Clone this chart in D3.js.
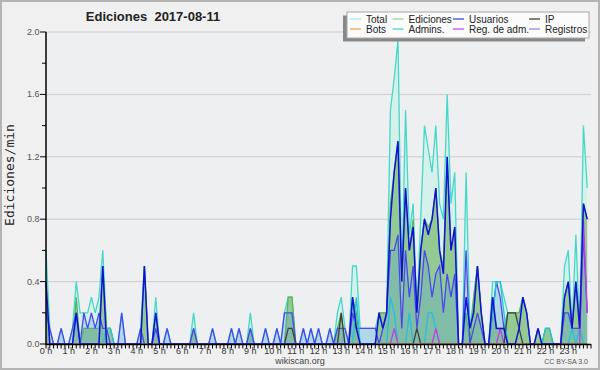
<!DOCTYPE html>
<html>
<head>
<meta charset="utf-8">
<script src="https://cdn.jsdelivr.net/npm/d3@7"></script>
<style>
  body { margin: 0; background: #fff; }
  svg { display: block; }
  text { font-family: "Liberation Sans", Arial, sans-serif; }
</style>
</head>
<body>
<div id="chart"></div>
<script>
// values per 10 minutes (edits/min), 0:00 -> 23:50
const total = [
  0.6,0.1,0,0,0.1,0, 0,0.1,0.4,0.2,0.2,0.2,
  0.3,0.2,0.3,0.6,0.1,0.1, 0,0,0.2,0,0,0,
  0,0.1,0.5,0,0,0.3, 0,0,0.1,0,0,0,
  0,0,0,0.2,0,0, 0,0,0.1,0,0,0,
  0,0.1,0,0.1,0,0, 0.2,0,0,0,0.1,0,
  0,0.1,0,0.2,0.3,0.3, 0,0,0.1,0,0.1,0,
  0.1,0,0,0.1,0,0.2, 0.3,0.1,0,0.5,0.5,0.1,
  0.1,0.1,0.1,0.1,0.2,0.2, 0.2,1.5,1.7,1.95,0.4,1.5,
  0.7,0.9,0.2,0.8,1.4,1.25, 1.1,1.4,0.9,0.8,1.6,0.9,
  1.1,0,0,1.1,0.1,0.3, 0.5,0.2,0,0,0.4,0.4,
  0.4,0.3,0.2,0.2,0.2,0.2, 0.3,0.2,0,0,0.1,0,
  0.1,0.1,0,0,0,0.5, 0.6,0.1,0.7,0.1,1.4,1.0
];
const ediciones = [
  0.4,0,0,0,0,0, 0,0,0.3,0,0.1,0.1,
  0.1,0.1,0.1,0.5,0.1,0.1, 0,0,0,0,0,0,
  0,0,0.5,0,0,0.2, 0,0,0,0,0,0,
  0,0,0,0.1,0,0, 0,0,0,0,0,0,
  0,0,0,0,0,0, 0.1,0,0,0,0,0,
  0,0,0,0,0.3,0.3, 0,0,0,0,0,0,
  0,0,0,0,0,0.1, 0.2,0,0,0.3,0.2,0,
  0,0,0,0,0.2,0.2, 0.2,0.9,1.1,1.3,0.4,1.0,
  0.6,0.8,0.2,0.6,0.8,0.75, 0.8,1.0,0.6,0.5,1.2,0.6,
  0.75,0,0,0.2,0,0.3, 0.5,0.2,0,0,0.3,0.1,
  0.1,0.1,0.2,0.2,0.2,0.2, 0.3,0.2,0,0,0.1,0,
  0.1,0.1,0,0,0,0.3, 0.4,0.1,0.4,0.1,0.9,0.8
];
const usuarios = [
  0.4,0,0,0,0,0, 0,0,0.2,0,0,0,
  0,0,0,0.5,0,0, 0,0,0,0,0,0,
  0,0,0.5,0,0,0.2, 0,0,0,0,0,0,
  0,0,0,0,0,0, 0,0,0,0,0,0,
  0,0,0,0,0,0, 0,0,0,0,0,0,
  0,0,0,0,0,0, 0,0,0,0,0,0,
  0,0,0,0,0,0, 0,0,0,0.3,0.1,0,
  0,0,0,0,0.2,0.1, 0.2,0.8,1.1,1.3,0.4,1.0,
  0.6,0.75,0.2,0.6,0.8,0.7, 0.8,1.0,0.6,0.45,1.2,0.6,
  0.75,0,0,0.3,0.1,0.2, 0.5,0.2,0,0,0.3,0.1,
  0.1,0.1,0,0,0,0.1, 0.3,0.2,0,0,0.1,0,
  0,0,0,0,0,0.3, 0.4,0.1,0.4,0.1,0.9,0.8
];
const ip = [
  0,0,0,0,0,0, 0,0,0,0,0,0,
  0,0,0,0,0,0, 0,0,0,0,0,0,
  0,0,0,0,0,0, 0,0,0,0,0,0,
  0,0,0,0,0,0, 0,0,0,0,0,0,
  0,0,0,0,0,0, 0,0,0,0,0,0,
  0,0,0,0,0.1,0.1, 0,0,0,0,0,0,
  0,0,0,0,0,0, 0.2,0,0,0,0,0,
  0,0,0,0,0,0, 0,0,0,0,0,0,
  0,0,0.1,0,0,0, 0,0,0,0,0,0,
  0,0,0,0,0,0, 0,0,0,0,0,0,
  0,0,0.2,0.2,0.2,0.1, 0,0,0,0,0,0,
  0,0,0,0,0,0, 0,0,0,0,0,0
];
const bots = d3.range(144).map(() => 0);
const admins = [
  0,0,0,0,0,0, 0,0,0,0,0,0,
  0,0,0,0,0.1,0.1, 0,0,0,0,0,0,
  0,0,0,0,0,0, 0,0,0,0,0,0,
  0,0,0,0,0,0, 0,0,0,0,0,0,
  0,0,0,0,0,0, 0,0,0,0,0,0,
  0,0,0,0,0,0, 0,0,0,0,0,0,
  0,0,0,0,0,0, 0,0,0,0,0.3,0,
  0,0,0,0,0,0, 0,0.3,0.2,0,0,0,
  0.2,0,0,0,0,0.2, 0.2,0.1,0,0,0,0,
  0,0,0,0,0,0, 0,0,0,0,0.2,0.4,
  0.4,0.2,0,0,0,0, 0,0,0,0,0,0,
  0.1,0.1,0,0,0,0, 0,0.1,0,0.1,0,0
];
const regAdm = [
  0,0,0,0,0,0, 0,0,0,0,0,0,
  0,0,0,0,0,0, 0,0,0,0,0,0,
  0,0,0,0,0,0, 0,0,0,0,0,0,
  0,0,0,0,0,0, 0,0,0,0,0,0,
  0,0,0,0,0,0, 0,0,0,0,0,0,
  0,0,0,0,0,0, 0,0,0,0,0,0,
  0,0,0,0,0,0, 0,0,0,0,0,0,
  0,0,0,0,0,0, 0,0,0.1,0,0,0,
  0,0,0,0,0,0, 0,0.1,0,0,0,0,
  0,0,0,0,0,0, 0,0,0,0,0,0,
  0.1,0,0,0,0,0, 0,0,0,0,0,0,
  0,0,0,0,0,0, 0,0,0,0,0.8,0.2
];
const registros = [
  0.2,0.1,0,0,0.1,0, 0,0.1,0.2,0,0.2,0.1,
  0.2,0.1,0.2,0.1,0.1,0, 0,0,0.2,0,0,0,
  0,0.1,0,0,0,0.1, 0,0,0.1,0,0,0,
  0,0,0,0.1,0,0, 0,0,0.1,0,0,0,
  0,0.1,0,0.1,0,0, 0.1,0,0,0,0.1,0,
  0,0.1,0,0.2,0.2,0.2, 0,0,0.1,0,0.1,0,
  0.1,0,0,0.1,0,0.1, 0.1,0.1,0,0.2,0.1,0.1,
  0.1,0.1,0.1,0.1,0,0.1, 0.2,0.6,0.6,0.7,0.1,0.6,
  0.3,0.5,0.1,0.3,0.6,0.5, 0.3,0.45,0.5,0.2,0.45,0.3,
  0.45,0,0,0.6,0,0.1, 0.2,0.1,0,0,0.2,0.4,
  0.3,0.1,0,0,0,0, 0,0,0,0,0,0,
  0,0,0,0,0,0.2, 0.2,0.1,0.1,0.1,0.7,0.2
];

const minutes = d3.range(144).map(i => i * 10);
const hourTicks = d3.range(24).map(h => h * 60);
const hourLabels = d3.range(24).map(h => h + ' h');
const yLabelTicks = [0, 0.4, 0.8, 1.2, 1.6, 2.0];
const yMinorTicks = [0.2, 0.6, 1.0, 1.4, 1.8];

const legendItems = [
  { name: 'Total', color: '#aee8e4' },
  { name: 'Ediciones', color: '#8fd08f' },
  { name: 'Usuarios', color: '#3a3adc' },
  { name: 'IP', color: '#333333' },
  { name: 'Bots', color: '#f5a040' },
  { name: 'Admins.', color: '#3cd2d2' },
  { name: 'Reg. de adm.', color: '#cc44dd' },
  { name: 'Registros', color: '#8585ee' }
];

const W = 600, H = 370;
const plot = { left: 46, right: 591, top: 32, bottom: 344 };

const svg = d3.select('#chart').append('svg')
  .attr('width', W)
  .attr('height', H);

// background + frame
svg.append('rect')
  .attr('x', 1).attr('y', 1)
  .attr('width', W - 2).attr('height', H - 2)
  .attr('fill', '#f0f0f0')
  .attr('stroke', '#b4b4b4')
  .attr('stroke-width', 2);

svg.append('rect')
  .attr('x', plot.left).attr('y', plot.top)
  .attr('width', plot.right - plot.left).attr('height', plot.bottom - plot.top)
  .attr('fill', '#eeeff1');

const x = d3.scaleLinear().domain([0, 24 * 60]).range([plot.left, plot.right]);
const y = d3.scaleLinear().domain([0, 2]).range([plot.bottom, plot.top]);

// grid
svg.append('g')
  .selectAll('line')
  .data(yLabelTicks.filter(d => d > 0))
  .join('line')
  .attr('x1', plot.left).attr('x2', plot.right)
  .attr('y1', d => y(d)).attr('y2', d => y(d))
  .attr('stroke', '#cccccc')
  .attr('stroke-width', 1);

const lineOf = d3.line().x((d, i) => x(minutes[i])).y(d => y(d));
const areaOf = d3.area().x((d, i) => x(minutes[i])).y0(y(0)).y1(d => y(d));

const chart = svg.append('g');

// Total
chart.append('path').attr('d', areaOf(total)).attr('fill', '#d6f1ec');
chart.append('path').attr('d', lineOf(total))
  .attr('fill', 'none').attr('stroke', '#44d8c8').attr('stroke-width', 1.3);

// Ediciones
chart.append('path').attr('d', areaOf(ediciones)).attr('fill', '#93c993');
chart.append('path').attr('d', lineOf(ediciones))
  .attr('fill', 'none').attr('stroke', '#55b455').attr('stroke-width', 1.2);

// Registros
chart.append('path').attr('d', areaOf(registros))
  .attr('fill', 'rgb(90,160,215)').attr('fill-opacity', 0.3);
chart.append('path').attr('d', lineOf(registros))
  .attr('fill', 'none').attr('stroke', '#4848f0').attr('stroke-width', 1.3);

const lines = [
  { data: admins, color: '#22c0e0', w: 1.3 },
  { data: regAdm, color: '#c040e0', w: 1.3 },
  { data: ip, color: '#404040', w: 1.3 },
  { data: bots, color: '#f5a040', w: 1.2 },
  { data: usuarios, color: '#1010d8', w: 1.5 }
];
lines.forEach(s => {
  chart.append('path').attr('d', lineOf(s.data))
    .attr('fill', 'none').attr('stroke', s.color).attr('stroke-width', s.w)
    .attr('stroke-linejoin', 'miter');
});

// y axis
const yAxis = svg.append('g');
yAxis.selectAll('line.minor')
  .data(yMinorTicks)
  .join('line')
  .attr('class', 'minor')
  .attr('x1', plot.left - 4).attr('x2', plot.left)
  .attr('y1', d => y(d)).attr('y2', d => y(d))
  .attr('stroke', '#000');
yAxis.selectAll('line.major')
  .data(yLabelTicks)
  .join('line')
  .attr('class', 'major')
  .attr('x1', plot.left - 6).attr('x2', plot.left)
  .attr('y1', d => y(d)).attr('y2', d => y(d))
  .attr('stroke', '#000');
yAxis.selectAll('text')
  .data(yLabelTicks)
  .join('text')
  .attr('x', plot.left - 6.5)
  .attr('y', d => y(d) + 3)
  .attr('text-anchor', 'end')
  .attr('font-size', 9)
  .attr('fill', '#555')
  .text(d => d.toFixed(1));
yAxis.append('line')
  .attr('x1', plot.left).attr('x2', plot.left)
  .attr('y1', plot.top).attr('y2', plot.bottom + 1)
  .attr('stroke', '#000').attr('stroke-width', 1.5);

// x axis
const xAxis = svg.append('g');
xAxis.selectAll('line.t')
  .data(d3.range(0, 145).map(k => k * 10))
  .join('line')
  .attr('class', 't')
  .attr('x1', d => x(d)).attr('x2', d => x(d))
  .attr('y1', plot.bottom).attr('y2', plot.bottom + 4.5)
  .attr('stroke', '#000');
xAxis.append('line')
  .attr('x1', plot.left).attr('x2', plot.right)
  .attr('y1', plot.bottom + 0.5).attr('y2', plot.bottom + 0.5)
  .attr('stroke', '#000').attr('stroke-width', 1.6);
xAxis.selectAll('text')
  .data(hourTicks)
  .join('text')
  .attr('x', d => x(d))
  .attr('y', plot.bottom + 10)
  .attr('text-anchor', 'middle')
  .attr('font-size', 9)
  .attr('fill', '#333')
  .text((d, i) => hourLabels[i]);

// titles
svg.append('text')
  .attr('x', 153).attr('y', 21)
  .attr('text-anchor', 'middle')
  .attr('font-size', 13)
  .attr('font-weight', 'bold')
  .attr('fill', '#222')
  .attr('xml:space', 'preserve')
  .style('white-space', 'pre')
  .text('Ediciones  2017-08-11');

svg.append('text')
  .attr('transform', 'translate(13.5,175) rotate(-90)')
  .attr('text-anchor', 'middle')
  .attr('font-size', 13)
  .style('font-family', '"DejaVu Sans Mono", monospace')
  .attr('fill', '#222')
  .text('Ediciones/min');

svg.append('text')
  .attr('x', 300).attr('y', 364)
  .attr('text-anchor', 'middle')
  .attr('font-size', 9)
  .attr('fill', '#444')
  .text('wikiscan.org');

svg.append('text')
  .attr('x', 588).attr('y', 364)
  .attr('text-anchor', 'end')
  .attr('font-size', 7)
  .attr('fill', '#555')
  .text('CC BY-SA 3.0');

// legend
const lg = svg.append('g');
lg.append('rect')
  .attr('x', 343).attr('y', 15.5)
  .attr('width', 242).attr('height', 26)
  .attr('fill', '#888');
lg.append('rect')
  .attr('x', 347).attr('y', 12)
  .attr('width', 242).attr('height', 26)
  .attr('fill', '#fbfbfb')
  .attr('stroke', '#a8a8a8');

const colX = [350, 392.5, 453, 529];
const rowY = [19, 29];
legendItems.forEach((d, i) => {
  const cx = colX[i % 4], cy = rowY[Math.floor(i / 4)];
  lg.append('line')
    .attr('x1', cx).attr('x2', cx + 11)
    .attr('y1', cy).attr('y2', cy)
    .attr('stroke', d.color).attr('stroke-width', 1.2);
  lg.append('text')
    .attr('x', cx + 16).attr('y', cy + 3.5)
    .attr('font-size', 10)
    .attr('fill', '#222')
    .text(d.name);
});
</script>
</body>
</html>
